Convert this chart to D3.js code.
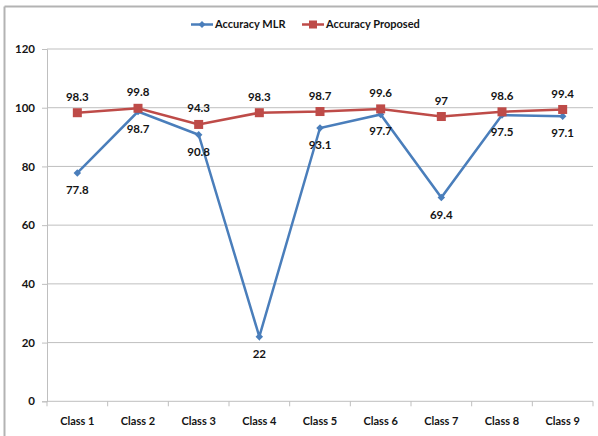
<!DOCTYPE html>
<html>
<head>
<meta charset="utf-8">
<script src="https://cdn.jsdelivr.net/npm/d3@7"></script>
<style>
  html, body { margin: 0; padding: 0; background: #fff; }
  svg text { font-family: Lato, "Open Sans", sans-serif; font-weight: bold; fill: #141414; }
</style>
</head>
<body>
<svg id="chart" width="598" height="436"></svg>
<script>
// Accuracy per class for the two methods
const categories = ["Class 1", "Class 2", "Class 3", "Class 4", "Class 5", "Class 6", "Class 7", "Class 8", "Class 9"];
const accuracyMLR = [77.8, 98.7, 90.8, 22, 93.1, 97.7, 69.4, 97.5, 97.1];
const accuracyProposed = [98.3, 99.8, 94.3, 98.3, 98.7, 99.6, 97, 98.6, 99.4];
const yTicks = [0, 20, 40, 60, 80, 100, 120];
const seriesNames = ["Accuracy MLR", "Accuracy Proposed"];

const svg = d3.select("#chart");
const W = 598, H = 436;
const plot = { left: 47, right: 593, top: 49, bottom: 401.3 };

const blue = "#4a7ebb", red = "#be4b48", grid = "#bfbfbf";
const fs = "11px";

// Frame
svg.append("line").attr("x1", 4.5).attr("x2", W).attr("y1", 6.5).attr("y2", 6.5)
  .attr("stroke", "#b3b3b3").attr("stroke-width", 2);
svg.append("line").attr("x1", 4.5).attr("x2", 4.5).attr("y1", 6.5).attr("y2", H)
  .attr("stroke", "#b3b3b3").attr("stroke-width", 2);

const x = d3.scaleBand().domain(categories).range([plot.left, plot.right]);
const y = d3.scaleLinear().domain([0, 120]).range([plot.bottom, plot.top]);
const cx = c => x(c) + x.bandwidth() / 2;

// Horizontal gridlines
svg.append("g").selectAll("line").data(yTicks.filter(t => t > 0)).join("line")
  .attr("x1", plot.left).attr("x2", plot.right)
  .attr("y1", d => y(d)).attr("y2", d => y(d))
  .attr("stroke", grid).attr("stroke-width", 1);

// Y axis
const yAxis = svg.append("g").attr("transform", `translate(${plot.left},0)`)
  .call(d3.axisLeft(y).tickValues(yTicks).tickSize(5).tickPadding(7));
yAxis.select(".domain").attr("stroke", grid);
yAxis.selectAll(".tick line").attr("stroke", grid);
yAxis.selectAll("text").style("font-size", "11.5px").attr("fill", "#141414");

// X axis with ticks at category boundaries
const xAxisG = svg.append("g").attr("transform", `translate(0,${plot.bottom})`);
xAxisG.append("line").attr("x1", plot.left).attr("x2", plot.right)
  .attr("stroke", grid).attr("stroke-width", 1);
const bounds = categories.map(c => x(c)).concat([plot.right]);
xAxisG.selectAll("line.tk").data(bounds).join("line").attr("class", "tk")
  .attr("x1", d => d).attr("x2", d => d).attr("y1", 0).attr("y2", 5)
  .attr("stroke", grid);
xAxisG.selectAll("text").data(categories).join("text")
  .attr("x", d => cx(d)).attr("y", 19.5)
  .attr("dy", "0.35em").attr("text-anchor", "middle")
  .style("font-size", fs).text(d => d);

const line = d3.line().x((d, i) => cx(categories[i])).y(d => y(d));
const diamond = d3.symbol(d3.symbolSquare, 28)();

// MLR series
svg.append("path").datum(accuracyMLR).attr("d", line)
  .attr("fill", "none").attr("stroke", blue).attr("stroke-width", 2.5);
svg.append("g").selectAll("path").data(accuracyMLR).join("path")
  .attr("d", diamond)
  .attr("transform", (d, i) => `translate(${cx(categories[i])},${y(d)}) rotate(45)`)
  .attr("fill", blue);

// Proposed series
svg.append("path").datum(accuracyProposed).attr("d", line)
  .attr("fill", "none").attr("stroke", red).attr("stroke-width", 2.5);
svg.append("g").selectAll("rect").data(accuracyProposed).join("rect")
  .attr("x", (d, i) => cx(categories[i]) - 4.5).attr("y", d => y(d) - 4.5)
  .attr("width", 9).attr("height", 9).attr("fill", red);

// Data labels: MLR below, Proposed above
svg.append("g").selectAll("text").data(accuracyMLR).join("text")
  .attr("x", (d, i) => cx(categories[i])).attr("y", d => y(d) + 17)
  .attr("dy", "0.35em").attr("text-anchor", "middle")
  .style("font-size", "11.5px").text(d => d);
svg.append("g").selectAll("text").data(accuracyProposed).join("text")
  .attr("x", (d, i) => cx(categories[i])).attr("y", d => y(d) - 16)
  .attr("dy", "0.35em").attr("text-anchor", "middle")
  .style("font-size", "11.5px").text(d => d);

// Legend
const legend = svg.append("g");
const items = [
  { name: seriesNames[0], color: blue, x0: 191, marker: "diamond" },
  { name: seriesNames[1], color: red, x0: 302, marker: "square" }
];
const ly = 24.5;
items.forEach(it => {
  legend.append("line").attr("x1", it.x0).attr("x2", it.x0 + 22)
    .attr("y1", ly).attr("y2", ly).attr("stroke", it.color).attr("stroke-width", 2.5);
  if (it.marker === "diamond") {
    legend.append("path").attr("d", d3.symbol(d3.symbolSquare, 24)())
      .attr("transform", `translate(${it.x0 + 11},${ly}) rotate(45)`).attr("fill", it.color);
  } else {
    legend.append("rect").attr("x", it.x0 + 11 - 4).attr("y", ly - 4)
      .attr("width", 8).attr("height", 8).attr("fill", it.color);
  }
  legend.append("text").attr("x", it.x0 + 24).attr("y", ly).attr("dy", "0.35em")
    .style("font-size", fs).text(it.name);
});
</script>
</body>
</html>
